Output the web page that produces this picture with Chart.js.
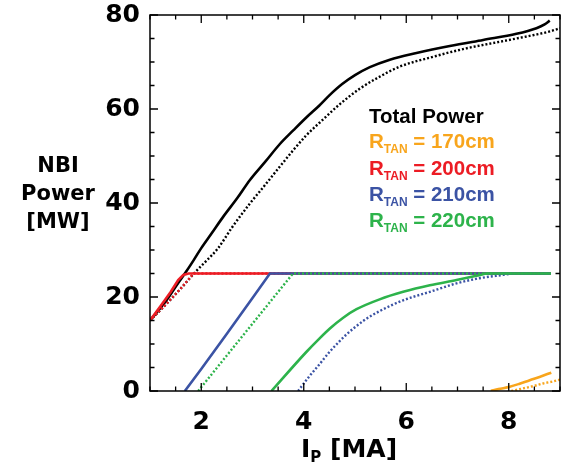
<!DOCTYPE html>
<html>
<head>
<meta charset="utf-8">
<script src="https://cdn.jsdelivr.net/npm/chart.js@4.4.1/dist/chart.umd.min.js"></script>
<style>
html,body{margin:0;padding:0;background:#fff;}
#wrap{width:561px;height:466px;}
</style>
</head>
<body>
<div id="wrap"><canvas id="c" width="561" height="466"></canvas></div>
<script>
// ---- Data ----
const xTickValues = [2, 4, 6, 8];
const yTickValues = [0, 20, 40, 60, 80];

const totalSolidX = [1.0, 1.3, 1.55, 1.68, 1.85, 2.0, 2.2, 2.43, 2.7, 2.95, 3.25, 3.53, 3.8, 4.05, 4.3, 4.51, 4.75, 5.0, 5.29, 5.68, 6.2, 6.85, 7.5, 8.15, 8.54, 8.7, 8.8];
const totalSolidY = [15, 19, 23, 25, 27.8, 30.4, 33.5, 37.1, 41, 44.9, 48.8, 52.5, 55.5, 58.2, 60.7, 63.0, 65.3, 67.2, 68.9, 70.5, 71.9, 73.4, 74.7, 76, 77.2, 78, 78.8];

const totalDotX = [1.0, 1.3, 1.6, 1.9, 2.1, 2.33, 2.6, 2.95, 3.25, 3.53, 3.8, 4.05, 4.4, 4.7, 5.09, 5.42, 5.87, 6.52, 7.17, 7.82, 8.47, 8.8, 9.0];
const totalDotY = [15, 18.3, 21.8, 25.5, 27.7, 30.4, 34.8, 39.9, 43.9, 47.7, 51.3, 54.4, 58.0, 61.0, 64.3, 66.5, 69, 71.1, 72.9, 74.3, 75.7, 76.5, 77.2];

const r200SolidX = [1.0, 1.2, 1.4, 1.55, 1.65, 1.75, 8.82];
const r200SolidY = [15, 18, 21, 23.6, 24.7, 25, 25];
const r200DotX = [1.0, 1.3, 1.6, 1.85, 8.82];
const r200DotY = [15, 18.3, 21.8, 25, 25];

const r210SolidX = [1.68, 2.0, 2.5, 3.0, 3.34, 8.82];
const r210SolidY = [0, 4.7, 12.2, 19.8, 25, 25];
const r210DotX = [3.89, 4.1, 4.3, 4.51, 4.7, 4.83, 5.16, 5.48, 5.94, 6.46, 6.98, 7.43, 7.89, 8.1, 8.82];
const r210DotY = [0, 3.0, 5.6, 8.4, 10.6, 12.0, 14.9, 17.0, 19.3, 21.1, 22.9, 24, 24.7, 25, 25];

const r220SolidX = [3.37, 4.05, 4.3, 4.51, 4.77, 5.03, 5.48, 5.94, 6.46, 6.98, 7.37, 7.6, 8.82];
const r220SolidY = [0, 8.3, 11.1, 13.3, 15.6, 17.4, 19.5, 21.1, 22.5, 23.6, 24.5, 25, 25];
const r220DotX = [1.94, 3.79, 8.82];
const r220DotY = [0, 25, 25];

const r170SolidX = [7.65, 7.8, 8.02, 8.2, 8.41, 8.6, 8.83];
const r170SolidY = [0, 0.4, 0.9, 1.5, 2.3, 3.0, 3.9];
const r170DotX = [8.05, 8.3, 8.5, 8.67, 8.85, 9.0];
const r170DotY = [0, 0.6, 1.1, 1.6, 2.0, 2.4];

const legendTitle = 'Total Power';
const legendValues = ['170cm', '200cm', '210cm', '220cm'];
const yTitleLines = ['NBI', 'Power', '[MW]'];

// ---- Styles ----
const C_BLACK = '#000000';
const C_ORANGE = '#F8A51C';
const C_RED = '#EC1C24';
const C_BLUE = '#3B53A4';
const C_GREEN = '#2DB34B';
const legendColors = [C_ORANGE, C_RED, C_BLUE, C_GREEN];

function pts(xs, ys){ return xs.map((v,i)=>({x:v, y:ys[i]})); }
function ds(xs, ys, color, dotted, smooth){
  return {
    data: pts(xs, ys),
    borderColor: color,
    backgroundColor: color,
    borderWidth: dotted ? 2.4 : 2.6,
    borderDash: dotted ? [2, 2] : [],
    pointRadius: 0,
    tension: smooth ? 0.35 : 0,
    cubicInterpolationMode: smooth ? 'monotone' : 'default',
    fill: false
  };
}

// first dataset drawn on top
const datasets = [
  ds(r170SolidX, r170SolidY, C_ORANGE, false, true),
  ds(r170DotX, r170DotY, C_ORANGE, true, true),
  ds(r220SolidX, r220SolidY, C_GREEN, false, true),
  ds(r210DotX, r210DotY, C_BLUE, true, true),
  ds(r220DotX, r220DotY, C_GREEN, true, false),
  ds(r210SolidX, r210SolidY, C_BLUE, false, false),
  ds(r200SolidX, r200SolidY, C_RED, false, false),
  ds(r200DotX, r200DotY, C_RED, true, false),
  ds(totalSolidX, totalSolidY, C_BLACK, false, true),
  ds(totalDotX, totalDotY, C_BLACK, true, true)
];

function drawRich(ctx, parts, x, y){
  let cx = x;
  parts.forEach(p=>{
    ctx.font = p.font;
    ctx.fillStyle = p.color;
    ctx.fillText(p.t, cx, y + (p.dy||0));
    cx += ctx.measureText(p.t).width;
  });
}

const decor = {
  id: 'decor',
  afterDatasetsDraw(chart){
    const {ctx, chartArea:a, scales:{x, y}} = chart;
    ctx.save();
    ctx.strokeStyle = '#000';
    ctx.lineWidth = 1.5;
    ctx.strokeRect(a.left, a.top, a.right - a.left, a.bottom - a.top);
    // inward ticks on all four sides
    ctx.lineWidth = 1.3;
    ctx.beginPath();
    for (let v = x.min; v <= x.max + 1e-9; v += 0.5){
      const px = x.getPixelForValue(v);
      const major = Math.abs(v - Math.round(v/2)*2) < 1e-9;
      const len = major ? 8 : 4.5;
      ctx.moveTo(px, a.bottom); ctx.lineTo(px, a.bottom - len);
      ctx.moveTo(px, a.top); ctx.lineTo(px, a.top + len);
    }
    for (let v = y.min; v <= y.max + 1e-9; v += 5){
      const py = y.getPixelForValue(v);
      const major = v % 20 === 0;
      const len = major ? 8 : 4.5;
      ctx.moveTo(a.left, py); ctx.lineTo(a.left + len, py);
      ctx.moveTo(a.right, py); ctx.lineTo(a.right - len, py);
    }
    ctx.stroke();

    // Y axis title
    ctx.fillStyle = '#000';
    ctx.textAlign = 'center';
    ctx.textBaseline = 'alphabetic';
    ctx.font = 'bold 21px "DejaVu Sans"';
    const yBase = [172, 200, 228];
    yTitleLines.forEach((t,i)=> ctx.fillText(t, 58, yBase[i]));

    // X axis title  I_P [MA]
    ctx.textAlign = 'left';
    const big = 'bold 25px "DejaVu Sans"';
    const sub = 'bold 15px "DejaVu Sans"';
    drawRich(ctx, [
      {t:'I', font:big, color:'#000'},
      {t:'P', font:sub, color:'#000', dy:5},
      {t:' [MA]', font:big, color:'#000'}
    ], 301, 457);

    // Legend
    const lf = 'bold 20.5px "Liberation Sans"';
    const sf = 'bold 12px "Liberation Sans"';
    ctx.font = lf; ctx.fillStyle = '#000';
    ctx.fillText(legendTitle, 369, 123);
    const lBase = [148, 175, 201, 227];
    legendValues.forEach((v,i)=>{
      drawRich(ctx, [
        {t:'R', font:lf, color:legendColors[i]},
        {t:'TAN', font:sf, color:legendColors[i], dy:5},
        {t:' = ' + v, font:lf, color:legendColors[i]}
      ], 369, lBase[i]);
    });
    ctx.restore();
  }
};

new Chart(document.getElementById('c'), {
  type: 'line',
  data: { datasets },
  options: {
    responsive: false,
    animation: false,
    devicePixelRatio: 1,
    layout: { padding: { top: 15, right: 1, left: 0, bottom: 0 } },
    plugins: { legend: { display: false }, tooltip: { enabled: false } },
    scales: {
      x: {
        type: 'linear',
        min: 1, max: 9,
        grid: { display: false, drawTicks: false },
        border: { display: false },
        afterBuildTicks: s => { s.ticks = xTickValues.map(v => ({value: v})); },
        afterFit: s => { s.height = 75; s.paddingLeft = 0; s.paddingRight = 0; },
        ticks: { font: { family: 'DejaVu Sans', weight: 'bold', size: 25 }, color: '#000', padding: 16, maxRotation: 0 }
      },
      y: {
        type: 'linear',
        min: 0, max: 80,
        grid: { display: false, drawTicks: false },
        border: { display: false },
        afterBuildTicks: s => { s.ticks = yTickValues.map(v => ({value: v})); },
        afterFit: s => { s.width = 150; s.paddingTop = 0; s.paddingBottom = 0; },
        ticks: { font: { family: 'DejaVu Sans', weight: 'bold', size: 25 }, color: '#000', padding: 10 }
      }
    }
  },
  plugins: [decor]
});
</script>
</body>
</html>
